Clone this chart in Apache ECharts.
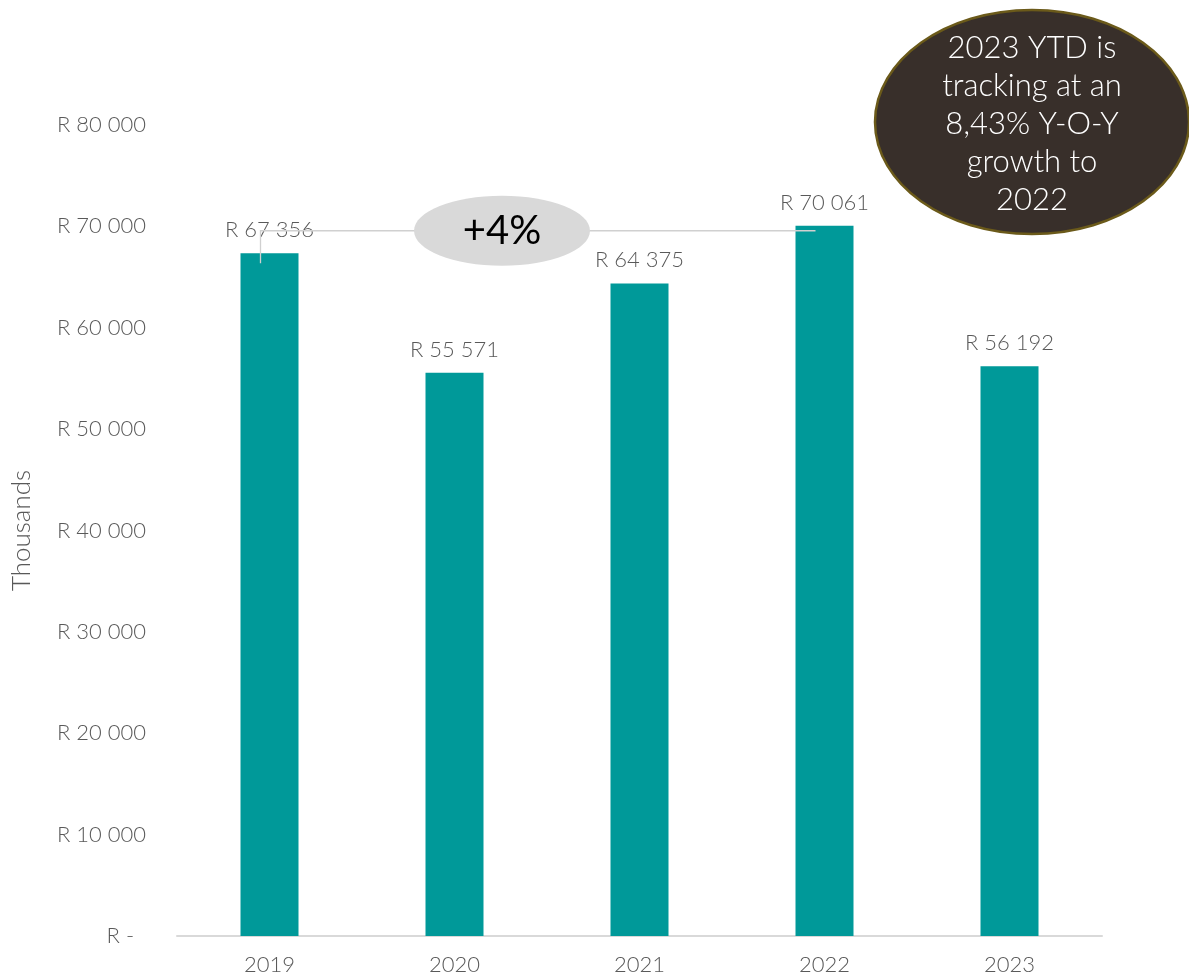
<!DOCTYPE html>
<html><head><meta charset="utf-8">
<script src="https://cdn.jsdelivr.net/npm/echarts@6/dist/echarts.min.js"></script>
<style>html,body{margin:0;padding:0;background:#fff}#c{width:1189px;height:978px}</style>
</head><body><div id="c"></div>
<script>
const categories = ['2019', '2020', '2021', '2022', '2023'];
const revenue = [67356, 55571, 64375, 70061, 56192];
const yTicks = [0, 10000, 20000, 30000, 40000, 50000, 60000, 70000, 80000];
const growthText = '+4%';
const noteLines = ['2023 YTD is', 'tracking at an', '8,43% Y-O-Y', 'growth to', '2022'];

const FONT = "Lato, 'Open Sans', sans-serif";
function fmt(v) {
  if (v === 0) return 'R -  ';
  const s = String(Math.round(v));
  return 'R ' + s.replace(/\B(?=(\d{3})+(?!\d))/g, ' ');
}
const chart = echarts.init(document.getElementById('c'));
chart.setOption({
  backgroundColor: '#fff',
  animation: false,
  grid: { left: 177, right: 87, top: 125, bottom: 42, containLabel: false, outerBoundsMode: 'none' },
  xAxis: {
    type: 'category', data: categories,
    axisLine: { lineStyle: { color: '#d9d9d9', width: 2 } },
    axisTick: { show: false },
    axisLabel: { color: '#595959', fontSize: 22, fontFamily: FONT, fontWeight: 300, margin: 18 }
  },
  yAxis: {
    type: 'value', min: yTicks[0], max: yTicks[yTicks.length - 1], interval: yTicks[1] - yTicks[0],
    name: 'Thousands', nameLocation: 'middle', nameGap: 142,
    nameTextStyle: { color: '#595959', fontSize: 26, fontFamily: FONT, fontWeight: 300 },
    axisLine: { show: false }, axisTick: { show: false }, splitLine: { show: false },
    axisLabel: { color: '#595959', fontSize: 22, fontFamily: FONT, fontWeight: 300, margin: 31, formatter: fmt }
  },
  series: [{
    type: 'bar', data: revenue, barWidth: 58,
    itemStyle: { color: '#009999' },
    label: { show: true, position: 'top', distance: 12, color: '#595959', fontSize: 22, fontFamily: FONT, fontWeight: 300, formatter: p => fmt(p.value) }
  }]
});

const p19 = chart.convertToPixel({ gridIndex: 0 }, [0, revenue[0]]);
const p22 = chart.convertToPixel({ gridIndex: 0 }, [3, revenue[3]]);
const lineY = p22[1] + 5;
const x1 = p19[0] - 9, x2 = p22[0] - 9;
chart.setOption({
  graphic: [
    { type: 'polyline', z: 10, shape: { points: [[x1, p19[1] + 10], [x1, lineY], [x2, lineY]] },
      style: { stroke: '#d0d0d0', lineWidth: 1.3, fill: null } },
    { type: 'ellipse', z: 11, shape: { cx: 502, cy: lineY, rx: 88, ry: 35 }, style: { fill: '#d9d9d9' } },
    { type: 'text', z: 12, x: 502, y: lineY, style: { text: growthText, fill: '#000', font: "40px " + FONT, textAlign: 'center', textVerticalAlign: 'middle' } },
    { type: 'ellipse', z: 11, shape: { cx: 1032, cy: 122, rx: 157, ry: 112 }, style: { fill: '#382f2a', stroke: '#6b5a1a', lineWidth: 2.5 } },
    { type: 'text', z: 12, x: 1032, y: 124, style: { text: noteLines.join('\n'), fill: '#fff', font: "300 31px " + FONT, lineHeight: 38, textAlign: 'center', textVerticalAlign: 'middle' } }
  ]
});
</script></body></html>
